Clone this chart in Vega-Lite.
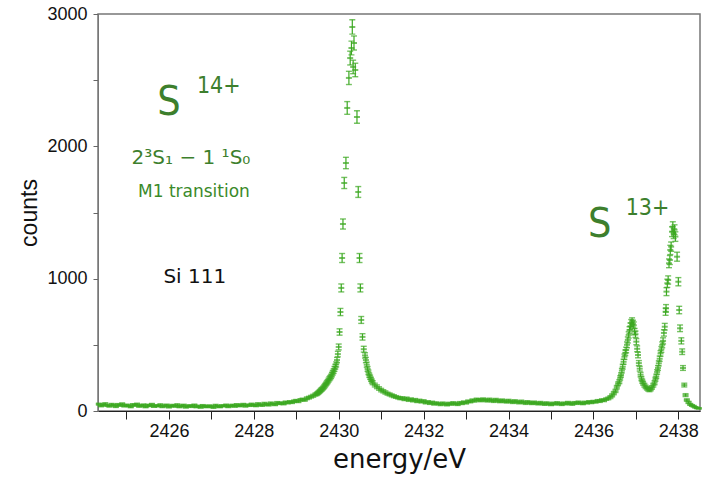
{
"$schema":"https://vega.github.io/schema/vega-lite/v6.json",
"width":602,"height":397,
"autosize":{"type":"none"},
"padding":{"left":98,"top":14,"right":5,"bottom":69},
"background":"white",
"config":{
 "view":{"stroke":"#777","strokeWidth":1.5},
 "axis":{"grid":false,"labelFont":"Liberation Sans","labelFontSize":18,"labelColor":"#111","titleFont":"DejaVu Sans","titleFontWeight":"normal","titleColor":"#111","tickColor":"#333","domainColor":"#555","labelOverlap":false}
},
"datasets":{"spec":[
{"e":2424.35,"c":52,"d":7},{"e":2424.40,"c":38,"d":6},{"e":2424.45,"c":47,"d":7},{"e":2424.50,"c":55,"d":7},{"e":2424.55,"c":41,"d":6},{"e":2424.60,"c":36,"d":6},{"e":2424.65,"c":50,"d":7},{"e":2424.70,"c":44,"d":7},{"e":2424.75,"c":33,"d":6},{"e":2424.80,"c":49,"d":7},
{"e":2424.85,"c":42,"d":6},{"e":2424.90,"c":54,"d":7},{"e":2424.95,"c":37,"d":6},{"e":2425.00,"c":45,"d":7},{"e":2425.05,"c":40,"d":6},{"e":2425.10,"c":31,"d":6},{"e":2425.15,"c":48,"d":7},{"e":2425.20,"c":43,"d":7},{"e":2425.25,"c":52,"d":7},{"e":2425.30,"c":35,"d":6},
{"e":2425.35,"c":41,"d":6},{"e":2425.40,"c":46,"d":7},{"e":2425.45,"c":30,"d":5},{"e":2425.50,"c":44,"d":7},{"e":2425.55,"c":39,"d":6},{"e":2425.60,"c":50,"d":7},{"e":2425.65,"c":34,"d":6},{"e":2425.70,"c":42,"d":6},{"e":2425.75,"c":37,"d":6},{"e":2425.80,"c":47,"d":7},
{"e":2425.85,"c":32,"d":6},{"e":2425.90,"c":40,"d":6},{"e":2425.95,"c":45,"d":7},{"e":2426.00,"c":29,"d":5},{"e":2426.05,"c":38,"d":6},{"e":2426.10,"c":43,"d":7},{"e":2426.15,"c":35,"d":6},{"e":2426.20,"c":47,"d":7},{"e":2426.25,"c":31,"d":6},{"e":2426.30,"c":39,"d":6},
{"e":2426.35,"c":44,"d":7},{"e":2426.40,"c":28,"d":5},{"e":2426.45,"c":36,"d":6},{"e":2426.50,"c":41,"d":6},{"e":2426.55,"c":33,"d":6},{"e":2426.60,"c":45,"d":7},{"e":2426.65,"c":30,"d":5},{"e":2426.70,"c":38,"d":6},{"e":2426.75,"c":27,"d":5},{"e":2426.80,"c":42,"d":6},
{"e":2426.85,"c":35,"d":6},{"e":2426.90,"c":31,"d":6},{"e":2426.95,"c":40,"d":6},{"e":2427.00,"c":34,"d":6},{"e":2427.05,"c":26,"d":5},{"e":2427.10,"c":43,"d":7},{"e":2427.15,"c":36,"d":6},{"e":2427.20,"c":30,"d":5},{"e":2427.25,"c":41,"d":6},{"e":2427.30,"c":37,"d":6},
{"e":2427.35,"c":45,"d":7},{"e":2427.40,"c":32,"d":6},{"e":2427.45,"c":39,"d":6},{"e":2427.50,"c":44,"d":7},{"e":2427.55,"c":35,"d":6},{"e":2427.60,"c":48,"d":7},{"e":2427.65,"c":38,"d":6},{"e":2427.70,"c":43,"d":7},{"e":2427.75,"c":50,"d":7},{"e":2427.80,"c":36,"d":6},
{"e":2427.85,"c":46,"d":7},{"e":2427.90,"c":41,"d":6},{"e":2427.95,"c":52,"d":7},{"e":2428.00,"c":44,"d":7},{"e":2428.05,"c":39,"d":6},{"e":2428.10,"c":55,"d":7},{"e":2428.15,"c":47,"d":7},{"e":2428.20,"c":42,"d":6},{"e":2428.25,"c":57,"d":8},{"e":2428.30,"c":50,"d":7},
{"e":2428.35,"c":45,"d":7},{"e":2428.40,"c":60,"d":8},{"e":2428.45,"c":53,"d":7},{"e":2428.50,"c":48,"d":7},{"e":2428.55,"c":63,"d":8},{"e":2428.60,"c":56,"d":7},{"e":2428.65,"c":61,"d":8},{"e":2428.70,"c":54,"d":7},{"e":2428.75,"c":67,"d":8},{"e":2428.80,"c":62,"d":8},
{"e":2428.85,"c":70,"d":8},{"e":2428.90,"c":65,"d":8},{"e":2428.95,"c":74,"d":9},{"e":2429.00,"c":78,"d":9},{"e":2429.05,"c":72,"d":8},{"e":2429.10,"c":84,"d":9},{"e":2429.15,"c":88,"d":9},{"e":2429.20,"c":83,"d":9},{"e":2429.25,"c":96,"d":10},{"e":2429.30,"c":101,"d":10},
{"e":2429.35,"c":108,"d":10},{"e":2429.40,"c":115,"d":11},{"e":2429.45,"c":124,"d":11},
{"e":2429.48,"c":128,"d":11},{"e":2429.50,"c":134,"d":12},{"e":2429.52,"c":139,"d":12},{"e":2429.54,"c":145,"d":12},{"e":2429.56,"c":151,"d":12},{"e":2429.58,"c":158,"d":13},{"e":2429.60,"c":163,"d":13},{"e":2429.62,"c":170,"d":13},{"e":2429.64,"c":177,"d":13},{"e":2429.66,"c":186,"d":14},
{"e":2429.68,"c":195,"d":14},{"e":2429.70,"c":204,"d":14},{"e":2429.72,"c":213,"d":15},{"e":2429.74,"c":222,"d":15},{"e":2429.76,"c":233,"d":15},{"e":2429.78,"c":244,"d":16},{"e":2429.80,"c":252,"d":16},{"e":2429.82,"c":262,"d":16},{"e":2429.84,"c":275,"d":17},{"e":2429.86,"c":289,"d":17},
{"e":2429.88,"c":301,"d":17},{"e":2429.90,"c":318,"d":18},{"e":2429.92,"c":335,"d":18},{"e":2429.94,"c":352,"d":19},{"e":2429.96,"c":385,"d":20},{"e":2429.98,"c":430,"d":21},{"e":2430.00,"c":484,"d":22},{"e":2430.02,"c":597,"d":24},{"e":2430.04,"c":748,"d":27},{"e":2430.06,"c":930,"d":30},
{"e":2430.08,"c":1156,"d":34},{"e":2430.10,"c":1413,"d":38},{"e":2430.13,"c":1723,"d":42},{"e":2430.17,"c":1874,"d":43},{"e":2430.20,"c":2290,"d":48},{"e":2430.24,"c":2517,"d":50},{"e":2430.27,"c":2667,"d":52},{"e":2430.30,"c":2743,"d":52},{"e":2430.32,"c":2902,"d":54},{"e":2430.34,"c":2600,"d":51},
{"e":2430.36,"c":2781,"d":53},{"e":2430.39,"c":2577,"d":51},{"e":2430.43,"c":2222,"d":47},{"e":2430.46,"c":1655,"d":41},{"e":2430.49,"c":1156,"d":34},{"e":2430.51,"c":930,"d":30},{"e":2430.53,"c":688,"d":26},{"e":2430.56,"c":560,"d":24},{"e":2430.59,"c":467,"d":22},{"e":2430.62,"c":420,"d":20},
{"e":2430.64,"c":385,"d":20},{"e":2430.66,"c":350,"d":19},{"e":2430.68,"c":318,"d":18},{"e":2430.70,"c":292,"d":17},{"e":2430.72,"c":270,"d":16},{"e":2430.74,"c":255,"d":16},{"e":2430.76,"c":240,"d":15},{"e":2430.78,"c":226,"d":15},{"e":2430.80,"c":214,"d":15},
{"e":2430.85,"c":196,"d":14},{"e":2430.90,"c":183,"d":14},{"e":2430.95,"c":170,"d":13},{"e":2431.00,"c":158,"d":13},{"e":2431.05,"c":149,"d":12},{"e":2431.10,"c":140,"d":12},{"e":2431.15,"c":131,"d":11},{"e":2431.20,"c":125,"d":11},{"e":2431.25,"c":118,"d":11},{"e":2431.30,"c":112,"d":11},
{"e":2431.35,"c":106,"d":10},{"e":2431.40,"c":101,"d":10},{"e":2431.45,"c":96,"d":10},{"e":2431.50,"c":97,"d":10},{"e":2431.55,"c":88,"d":9},{"e":2431.60,"c":95,"d":10},{"e":2431.65,"c":82,"d":9},{"e":2431.70,"c":90,"d":9},{"e":2431.75,"c":78,"d":9},{"e":2431.80,"c":85,"d":9},
{"e":2431.85,"c":72,"d":8},{"e":2431.90,"c":80,"d":9},{"e":2431.95,"c":69,"d":8},{"e":2432.00,"c":76,"d":9},{"e":2432.05,"c":62,"d":8},{"e":2432.10,"c":70,"d":8},{"e":2432.15,"c":58,"d":8},{"e":2432.20,"c":66,"d":8},{"e":2432.25,"c":52,"d":7},{"e":2432.30,"c":61,"d":8},
{"e":2432.35,"c":55,"d":7},{"e":2432.40,"c":48,"d":7},{"e":2432.45,"c":60,"d":8},{"e":2432.50,"c":53,"d":7},{"e":2432.55,"c":46,"d":7},{"e":2432.60,"c":58,"d":8},{"e":2432.65,"c":51,"d":7},{"e":2432.70,"c":62,"d":8},{"e":2432.75,"c":55,"d":7},{"e":2432.80,"c":49,"d":7},
{"e":2432.85,"c":63,"d":8},{"e":2432.90,"c":57,"d":8},{"e":2432.95,"c":68,"d":8},{"e":2433.00,"c":61,"d":8},{"e":2433.05,"c":74,"d":9},{"e":2433.10,"c":70,"d":8},{"e":2433.15,"c":82,"d":9},{"e":2433.20,"c":76,"d":9},{"e":2433.25,"c":88,"d":9},{"e":2433.30,"c":84,"d":9},
{"e":2433.35,"c":79,"d":9},{"e":2433.40,"c":90,"d":9},{"e":2433.45,"c":83,"d":9},{"e":2433.50,"c":77,"d":9},{"e":2433.55,"c":88,"d":9},{"e":2433.60,"c":80,"d":9},{"e":2433.65,"c":74,"d":9},{"e":2433.70,"c":86,"d":9},{"e":2433.75,"c":78,"d":9},{"e":2433.80,"c":71,"d":8},
{"e":2433.85,"c":82,"d":9},{"e":2433.90,"c":75,"d":9},{"e":2433.95,"c":68,"d":8},{"e":2434.00,"c":79,"d":9},{"e":2434.05,"c":72,"d":8},{"e":2434.10,"c":65,"d":8},{"e":2434.15,"c":76,"d":9},{"e":2434.20,"c":69,"d":8},{"e":2434.25,"c":62,"d":8},{"e":2434.30,"c":73,"d":9},
{"e":2434.35,"c":66,"d":8},{"e":2434.40,"c":58,"d":8},{"e":2434.45,"c":70,"d":8},{"e":2434.50,"c":63,"d":8},{"e":2434.55,"c":56,"d":7},{"e":2434.60,"c":67,"d":8},{"e":2434.65,"c":60,"d":8},{"e":2434.70,"c":53,"d":7},{"e":2434.75,"c":64,"d":8},{"e":2434.80,"c":57,"d":8},
{"e":2434.85,"c":50,"d":7},{"e":2434.90,"c":61,"d":8},{"e":2434.95,"c":54,"d":7},{"e":2435.00,"c":48,"d":7},{"e":2435.05,"c":59,"d":8},{"e":2435.10,"c":52,"d":7},{"e":2435.15,"c":62,"d":8},{"e":2435.20,"c":55,"d":7},{"e":2435.25,"c":49,"d":7},{"e":2435.30,"c":60,"d":8},
{"e":2435.35,"c":53,"d":7},{"e":2435.40,"c":64,"d":8},{"e":2435.45,"c":57,"d":8},{"e":2435.50,"c":51,"d":7},{"e":2435.55,"c":63,"d":8},{"e":2435.60,"c":58,"d":8},{"e":2435.65,"c":67,"d":8},{"e":2435.70,"c":60,"d":8},{"e":2435.75,"c":55,"d":7},{"e":2435.80,"c":66,"d":8},
{"e":2435.85,"c":61,"d":8},{"e":2435.90,"c":70,"d":8},{"e":2435.95,"c":64,"d":8},{"e":2436.00,"c":72,"d":8},{"e":2436.05,"c":68,"d":8},{"e":2436.10,"c":77,"d":9},{"e":2436.15,"c":74,"d":9},{"e":2436.20,"c":83,"d":9},{"e":2436.25,"c":80,"d":9},{"e":2436.30,"c":90,"d":9},
{"e":2436.35,"c":95,"d":10},
{"e":2436.40,"c":105,"d":10},{"e":2436.44,"c":118,"d":11},{"e":2436.48,"c":135,"d":12},{"e":2436.52,"c":152,"d":12},{"e":2436.55,"c":180,"d":13},{"e":2436.58,"c":205,"d":14},{"e":2436.61,"c":222,"d":15},{"e":2436.63,"c":250,"d":16},{"e":2436.65,"c":272,"d":16},{"e":2436.67,"c":305,"d":17},
{"e":2436.69,"c":335,"d":18},{"e":2436.71,"c":372,"d":19},{"e":2436.73,"c":410,"d":20},{"e":2436.75,"c":440,"d":21},{"e":2436.77,"c":461,"d":21},{"e":2436.79,"c":500,"d":22},{"e":2436.81,"c":537,"d":23},{"e":2436.83,"c":575,"d":24},{"e":2436.85,"c":612,"d":25},{"e":2436.87,"c":640,"d":25},
{"e":2436.89,"c":665,"d":26},{"e":2436.91,"c":678,"d":26},{"e":2436.93,"c":660,"d":26},{"e":2436.95,"c":648,"d":25},{"e":2436.97,"c":600,"d":24},{"e":2436.99,"c":580,"d":24},{"e":2437.01,"c":524,"d":23},{"e":2437.03,"c":470,"d":22},{"e":2437.05,"c":423,"d":21},{"e":2437.07,"c":362,"d":19},
{"e":2437.09,"c":320,"d":18},{"e":2437.11,"c":275,"d":17},{"e":2437.13,"c":245,"d":16},{"e":2437.15,"c":225,"d":15},{"e":2437.17,"c":210,"d":14},{"e":2437.20,"c":195,"d":14},{"e":2437.23,"c":182,"d":13},{"e":2437.26,"c":172,"d":13},{"e":2437.29,"c":164,"d":13},{"e":2437.32,"c":159,"d":13},
{"e":2437.35,"c":166,"d":13},{"e":2437.38,"c":178,"d":13},{"e":2437.41,"c":195,"d":14},{"e":2437.44,"c":214,"d":15},{"e":2437.46,"c":240,"d":15},{"e":2437.48,"c":262,"d":16},{"e":2437.50,"c":295,"d":17},{"e":2437.52,"c":325,"d":18},{"e":2437.54,"c":360,"d":19},{"e":2437.56,"c":395,"d":20},
{"e":2437.58,"c":435,"d":21},{"e":2437.60,"c":465,"d":22},{"e":2437.62,"c":500,"d":22},{"e":2437.64,"c":530,"d":23},{"e":2437.66,"c":590,"d":24},{"e":2437.68,"c":637,"d":25},{"e":2437.70,"c":750,"d":27},{"e":2437.71,"c":776,"d":28},{"e":2437.72,"c":902,"d":30},{"e":2437.74,"c":965,"d":31},
{"e":2437.76,"c":990,"d":31},{"e":2437.78,"c":1116,"d":33},{"e":2437.80,"c":1141,"d":34},{"e":2437.81,"c":1217,"d":35},{"e":2437.83,"c":1242,"d":35},{"e":2437.85,"c":1355,"d":37},{"e":2437.87,"c":1393,"d":37},{"e":2437.89,"c":1340,"d":37},{"e":2437.91,"c":1370,"d":37},{"e":2437.93,"c":1318,"d":36},
{"e":2437.97,"c":1166,"d":34},{"e":2438.00,"c":977,"d":31},{"e":2438.02,"c":763,"d":28},{"e":2438.04,"c":625,"d":25},{"e":2438.07,"c":530,"d":23},{"e":2438.09,"c":448,"d":21},{"e":2438.11,"c":325,"d":18},{"e":2438.14,"c":196,"d":14},{"e":2438.17,"c":120,"d":11},{"e":2438.20,"c":83,"d":9},
{"e":2438.24,"c":65,"d":8},{"e":2438.28,"c":50,"d":7},{"e":2438.32,"c":42,"d":6},{"e":2438.36,"c":36,"d":6},{"e":2438.40,"c":28,"d":5},{"e":2438.44,"c":23,"d":5},{"e":2438.48,"c":20,"d":5}
]},
"layer":[
 {"data":{"name":"spec"},
  "encoding":{
   "x":{"field":"e","type":"quantitative","scale":{"domain":[2424.33,2438.51],"nice":false,"zero":false},
    "axis":{"title":"energy/eV","values":[2425,2426,2427,2428,2429,2430,2431,2432,2433,2434,2435,2436,2437,2438],"format":"d","labelExpr":"datum.value % 2 === 0 ? datum.label : ''","tickSize":8,"labelPadding":3,"labelFlush":false,"titleFontSize":26,"titlePadding":6,"domainColor":"#222","tickColor":"#222"}},
   "y":{"field":"c","type":"quantitative","scale":{"domain":[0,3000],"nice":false},
    "axis":{"title":"counts","values":[0,500,1000,1500,2000,2500,3000],"format":"d","labelExpr":"datum.value % 1000 === 0 ? datum.label : ''","tickSize":5,"labelPadding":6,"titleFont":"Liberation Sans","titleFontSize":23,"titlePadding":5,"domainColor":"#777","tickColor":"#666"}}
  },
  "layer":[
   {"mark":{"type":"errorbar","color":"#3ca821","ticks":{"size":6,"thickness":1.4},"rule":{"strokeWidth":1.2}},"encoding":{"yError":{"field":"d"}}},
   {"mark":{"type":"tick","orient":"horizontal","size":6,"thickness":2,"color":"#3ca821"}}
  ]
 },
 {"data":{"values":[{}]},"mark":{"type":"text","text":"S","font":"Liberation Sans Narrow, DejaVu Sans Condensed, Liberation Sans","fontSize":41,"align":"center","baseline":"alphabetic","color":"#3d7f2d"},"encoding":{"x":{"datum":2426.0,"type":"quantitative"},"y":{"datum":2237,"type":"quantitative"}}},
 {"data":{"values":[{}]},"mark":{"type":"text","text":"14+","font":"Liberation Sans Narrow, DejaVu Sans Condensed, Liberation Sans","fontSize":23,"align":"left","baseline":"alphabetic","color":"#3d7f2d"},"encoding":{"x":{"datum":2426.66,"type":"quantitative"},"y":{"datum":2404,"type":"quantitative"}}},
 {"data":{"values":[{}]},"mark":{"type":"text","text":"2³S₁  −  1 ¹S₀","font":"DejaVu Sans","fontSize":20,"align":"center","baseline":"alphabetic","color":"#3d7f2d"},"encoding":{"x":{"datum":2426.52,"type":"quantitative"},"y":{"datum":1867,"type":"quantitative"}}},
 {"data":{"values":[{}]},"mark":{"type":"text","text":"M1 transition","font":"DejaVu Sans","fontSize":17,"align":"center","baseline":"alphabetic","color":"#3a8a2a"},"encoding":{"x":{"datum":2426.59,"type":"quantitative"},"y":{"datum":1617,"type":"quantitative"}}},
 {"data":{"values":[{}]},"mark":{"type":"text","text":"Si 111","font":"DejaVu Sans","fontSize":20,"align":"center","baseline":"alphabetic","color":"#111"},"encoding":{"x":{"datum":2426.61,"type":"quantitative"},"y":{"datum":967,"type":"quantitative"}}},
 {"data":{"values":[{}]},"mark":{"type":"text","text":"S","font":"Liberation Sans Narrow, DejaVu Sans Condensed, Liberation Sans","fontSize":41,"align":"center","baseline":"alphabetic","color":"#3d7f2d"},"encoding":{"x":{"datum":2436.15,"type":"quantitative"},"y":{"datum":1315,"type":"quantitative"}}},
 {"data":{"values":[{}]},"mark":{"type":"text","text":"13+","font":"Liberation Sans Narrow, DejaVu Sans Condensed, Liberation Sans","fontSize":23,"align":"left","baseline":"alphabetic","color":"#3d7f2d"},"encoding":{"x":{"datum":2436.76,"type":"quantitative"},"y":{"datum":1481,"type":"quantitative"}}}
]
}
